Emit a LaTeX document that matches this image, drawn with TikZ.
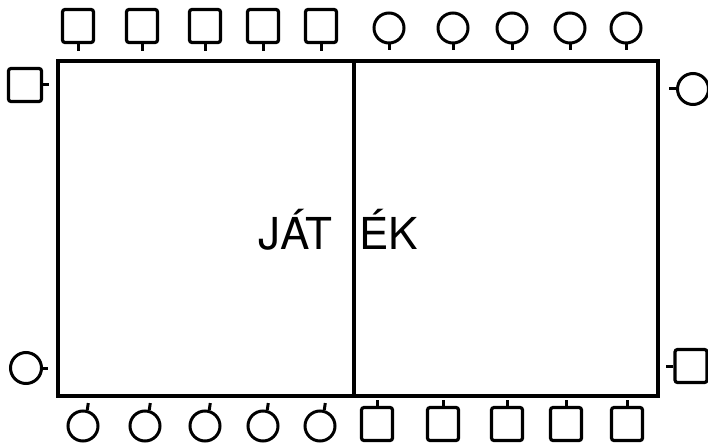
\documentclass[tikz,border=0pt]{standalone}
\usepackage{fontspec}
\setsansfont{TeX Gyre Heros}
\tikzset{sq/.style={draw,line width=3.2pt,rounded corners=2.5pt,minimum width=31pt,minimum height=33pt,inner sep=0pt},
	ci/.style={draw,circle,line width=3pt,minimum size=30pt,inner sep=0pt},
	tk/.style={line width=3pt},
	lbl/.style={font=\sffamily\fontsize{44pt}{44pt}\selectfont,inner sep=0pt}}
\usetikzlibrary{positioning,calc}

\begin{document}
\begin{tikzpicture}[x=1pt,y=-1pt]
	  \useasboundingbox (0,0) rectangle (708,446);
	  \path (58,61) coordinate (A)
	          (658,396) coordinate (C)
	          (354,61) coordinate (M)
	          (354,396) coordinate (N);
	      \draw[line width=3.4pt] (A) rectangle (C) (M)--(N);
	      \node[lbl,anchor=base east] (jat) at (333,249) {JÁT};
	      \node[lbl,anchor=base west] (ek) at (359,249) {ÉK};
	      
	      % top row
	      \foreach \i/\x in {1/78,2/142,3/205,4/263,5/321}{
	           		\node[sq] (S\i) at (\x,26) {};
	           		\path (S\i.south) ++(0,7) coordinate (s\i);
	           		\draw[tk] (S\i.south)--(s\i);
	           	}
	      \foreach \i/\x in {1/389,2/453,3/512,4/570,5/626}{
	           		\node[ci] (O\i) at (\x,28) {};
	           		\path (O\i.south) ++(0,6) coordinate (o\i);
	           		\draw[tk] (O\i.south)--(o\i);
	           	}
	      % bottom row
	      \foreach \i/\x in {1/83,2/145,3/205,4/263,5/320}{
	           		\node[ci] (P\i) at (\x,426) {};
	           		\path (P\i.75) ++(1,-7) coordinate (p\i);
	           		\draw[tk] (P\i.75)--(p\i);
	           	}
	      \foreach \i/\x in {1/377,2/443,3/507,4/566,5/627}{
	           		\node[sq] (Q\i) at (\x,424) {};
	           		\path (Q\i.north) ++(0,-6) coordinate (q\i);
	           		\draw[tk] (Q\i.north)--(q\i);
	           	}
	      % sides
	      \node[sq,minimum width=33pt] (L1) at (25,85) {};
	      \path (L1.east) ++(6,0) coordinate (l1);
	      \draw[tk] (L1.east)--(l1);
	      \node[ci,minimum size=31pt] (L2) at (26,368) {};
	      \path (L2.east) ++(5,0) coordinate (l2);
	      \draw[tk] (L2.east)--(l2);
	      \node[ci,minimum size=31pt] (R1) at (693,89) {};
	      \path (R1.west) ++(-7,0) coordinate (r1);
	      \draw[tk] (R1.west)--(r1);
	      \node[sq,minimum width=32pt] (R2) at (691,366) {};
	      \path (R2.west) ++(-7,0) coordinate (r2);
	      \draw[tk] (R2.west)--(r2);
	\end{tikzpicture}
\end{document}
